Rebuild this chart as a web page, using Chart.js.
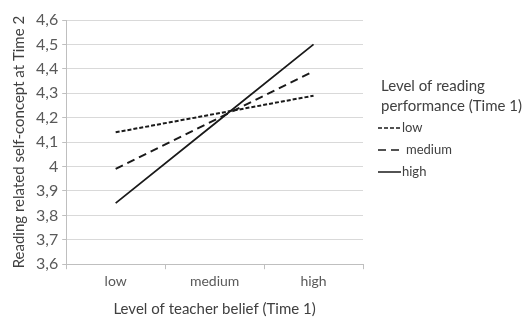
<!DOCTYPE html>
<html>
<head>
    <title>Reading self-concept by teacher belief</title>
    <style>
        body {
            margin: 0;
            background: #ffffff;
        }
        #chart-container {
            width: 526px;
            height: 322px;
            position: relative;
        }
    </style>
    <script src="https://cdn.jsdelivr.net/npm/chart.js"></script>
</head>
<body>
    <div id="chart-container">
        <canvas id="beliefChart"></canvas>
    </div>
    <script>
        // categories on the x axis
        const teacherBelief = ['low', 'medium', 'high'];
        // one line per level of reading performance
        const lowPerformance = [4.14, 4.215, 4.29];
        const mediumPerformance = [3.99, 4.19, 4.39];
        const highPerformance = [3.85, 4.175, 4.50];
        const legendTitle = ['Level of reading', 'performance (Time 1)'];
        const yMin = 3.6;
        const yMax = 4.6;
        const yStep = 0.1;

        const fontFamily = 'Lato, "Open Sans", sans-serif';
        const textColor = '#404040';

        // legend drawn at the right side of the plot, with the title wrapped on two lines
        const sideLegend = {
            id: 'sideLegend',
            afterDraw(chart) {
                const ctx = chart.ctx;
                const area = chart.chartArea;
                const x = area.right + 15;
                ctx.save();
                ctx.fillStyle = textColor;
                ctx.textBaseline = 'middle';
                ctx.font = '15px ' + fontFamily;
                legendTitle.forEach((line, i) => {
                    ctx.fillText(line, x + 3, area.top + 66 + i * 20);
                });
                ctx.font = '13px ' + fontFamily;
                chart.data.datasets.forEach((ds, i) => {
                    const y = area.top + 108 + i * 22;
                    ctx.strokeStyle = ds.borderColor;
                    ctx.lineWidth = 1.5;
                    ctx.setLineDash(ds.borderDash || []);
                    ctx.beginPath();
                    ctx.moveTo(x, y);
                    ctx.lineTo(x + 23, y);
                    ctx.stroke();
                    ctx.setLineDash([]);
                    ctx.fillText(ds.label, x + (i === 1 ? 28 : 24), y);
                });
                ctx.restore();
            }
        };

        const ctx = document.getElementById('beliefChart').getContext('2d');
        new Chart(ctx, {
            type: 'line',
            data: {
                labels: teacherBelief,
                datasets: [
                    {
                        label: 'low',
                        data: lowPerformance,
                        borderColor: '#1a1a1a',
                        borderWidth: 2,
                        borderDash: [4, 2],
                        pointRadius: 0,
                        fill: false
                    },
                    {
                        label: 'medium',
                        data: mediumPerformance,
                        borderColor: '#1a1a1a',
                        borderWidth: 2,
                        borderDash: [8, 5],
                        pointRadius: 0,
                        fill: false
                    },
                    {
                        label: 'high',
                        data: highPerformance,
                        borderColor: '#1a1a1a',
                        borderWidth: 1.8,
                        pointRadius: 0,
                        fill: false
                    }
                ]
            },
            options: {
                responsive: true,
                maintainAspectRatio: false,
                animation: false,
                layout: {
                    padding: { top: 20, right: 163, bottom: 4, left: 10 }
                },
                scales: {
                    x: {
                        offset: true,
                        grid: {
                            offset: true,
                            drawOnChartArea: false,
                            drawTicks: true,
                            tickLength: 5,
                            color: '#bfbfbf'
                        },
                        border: { display: true, color: '#bfbfbf', width: 1 },
                        ticks: {
                            color: '#595959',
                            font: { family: fontFamily, size: 14 },
                            padding: 4
                        },
                        title: {
                            display: true,
                            text: 'Level of teacher belief (Time 1)',
                            color: textColor,
                            font: { family: fontFamily, size: 15 },
                            padding: { top: 6, bottom: 0 }
                        }
                    },
                    y: {
                        min: yMin,
                        max: yMax,
                        ticks: {
                            stepSize: yStep,
                            color: '#595959',
                            font: { family: fontFamily, size: 16 },
                            padding: 4,
                            callback: function(value) {
                                return String(Math.round(value * 10) / 10).replace('.', ',');
                            }
                        },
                        grid: {
                            color: '#d9d9d9',
                            tickLength: 4,
                            tickColor: '#bfbfbf'
                        },
                        border: { display: true, color: '#bfbfbf', width: 1 },
                        title: {
                            display: true,
                            text: 'Reading related self-concept at Time 2',
                            color: textColor,
                            font: { family: fontFamily, size: 15 },
                            padding: { top: 0, bottom: 4 }
                        }
                    }
                },
                plugins: {
                    legend: { display: false },
                    tooltip: { enabled: false }
                }
            },
            plugins: [sideLegend]
        });
    </script>
</body>
</html>
